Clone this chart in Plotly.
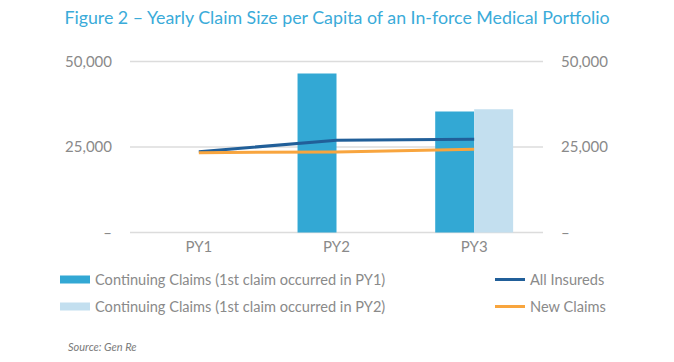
import plotly.graph_objects as go

categories = ["PY1", "PY2", "PY3"]
cont_py1 = [None, 46500, 35400]
cont_py2 = [None, None, 36000]
all_insureds = [23600, 27000, 27300]
new_claims = [23350, 23550, 24350]
tick_vals = [0, 25000, 50000]
tick_text = ["–", "25,000", "50,000"]

C_DARK_BAR = "#33A8D4"
C_LIGHT_BAR = "#C3DFEF"
C_NAVY = "#215F99"
C_ORANGE = "#F8A53E"
GREY = "#8a8a8a"
GRID = "#dcdcdc"
FONT = "Lato"

W, H = 674, 362
yr = [-1000, 51000]
ext = 1000 / 50000 * 172
L, R, T, B = 130, 131, 61 - ext, 362 - 233 - ext
PW, PH = W - L - R, H - T - B


def px_x(x):
    return (x - L) / PW


def px_y(y):
    return (H - B - y) / PH


fig = go.Figure()
fig.add_trace(go.Bar(x=categories, y=cont_py1, marker_color=C_DARK_BAR,
                     marker_line_width=0, showlegend=False))
fig.add_trace(go.Bar(x=categories, y=cont_py2, marker_color=C_LIGHT_BAR,
                     marker_line_width=0, showlegend=False))
fig.add_trace(go.Scatter(x=categories, y=all_insureds, mode="lines",
                         line=dict(color=C_NAVY, width=3), showlegend=False))
fig.add_trace(go.Scatter(x=categories, y=new_claims, mode="lines",
                         line=dict(color=C_ORANGE, width=3), showlegend=False))

# legend entries
fig.add_trace(go.Scatter(x=[None], y=[None], mode="lines", name="Continuing Claims (1st claim occurred in PY1)",
                         line=dict(color=C_DARK_BAR, width=8), legend="legend", legendgroup="a"))
fig.add_trace(go.Scatter(x=[None], y=[None], mode="lines", name="Continuing Claims (1st claim occurred in PY2)",
                         line=dict(color=C_LIGHT_BAR, width=8), legend="legend", legendgroup="b"))
fig.add_trace(go.Scatter(x=[None], y=[None], mode="lines", name="All Insureds",
                         line=dict(color=C_NAVY, width=3), legend="legend2", legendgroup="c"))
fig.add_trace(go.Scatter(x=[None], y=[None], mode="lines", name="New Claims",
                         line=dict(color=C_ORANGE, width=3), legend="legend2", legendgroup="d"))

# invisible right-axis trace so that the right axis is drawn
fig.add_trace(go.Scatter(x=categories, y=all_insureds, yaxis="y2", mode="lines",
                         line=dict(width=0), opacity=0, showlegend=False, hoverinfo="skip"))

# horizontal gridlines at the tick values
for v in tick_vals:
    fig.add_shape(type="line", xref="paper", yref="y", x0=0, x1=1, y0=v, y1=v,
                  line=dict(color=GRID, width=1.5), layer="below")

fig.update_layout(
    width=W, height=H,
    margin=dict(l=L, r=R, t=T, b=B, autoexpand=False),
    paper_bgcolor="white", plot_bgcolor="white",
    font=dict(family=FONT, color=GREY, size=15),
    barmode="group", bargap=0.434, bargroupgap=0,
    title=dict(text="Figure 2 – Yearly Claim Size per Capita of an In-force Medical Portfolio",
               x=0.5, xanchor="center", y=1 - 18 / H, yanchor="middle",
               font=dict(family=FONT, size=17.8, color="#3AABD9")),
    xaxis=dict(categoryorder="array", categoryarray=categories, showgrid=False,
               showline=False, zeroline=False, ticks="", tickfont=dict(size=15, color=GREY)),
    yaxis=dict(range=yr, tickvals=tick_vals, ticktext=tick_text,
               showgrid=False, zeroline=False,
               showline=False, ticks="outside", ticklen=14, tickcolor="rgba(0,0,0,0)",
               tickfont=dict(size=15, color=GREY)),
    yaxis2=dict(range=yr, tickvals=tick_vals, ticktext=tick_text,
                overlaying="y", side="right", showgrid=False, zeroline=False,
                showline=False, ticks="outside", ticklen=14, tickcolor="rgba(0,0,0,0)",
                tickfont=dict(size=15, color=GREY)),
    legend=dict(x=px_x(55), y=px_y(264), xanchor="left", yanchor="top",
                orientation="v", font=dict(size=14.6, color=GREY), itemwidth=30,
                tracegroupgap=5, bgcolor="rgba(0,0,0,0)"),
    legend2=dict(x=px_x(490), y=px_y(264), xanchor="left", yanchor="top",
                 orientation="v", font=dict(size=14.6, color=GREY), itemwidth=30,
                 tracegroupgap=5, bgcolor="rgba(0,0,0,0)"),
    annotations=[dict(text="<i>Source: Gen Re</i>", x=px_x(66), y=px_y(347),
                      xref="paper", yref="paper", showarrow=False, xanchor="left",
                      yanchor="middle", font=dict(size=11, color="#7a7a7a", family=FONT))],
)

fig.write_html("out.html", config={"displayModeBar": False},
               post_script="document.body.style.margin='0';")
